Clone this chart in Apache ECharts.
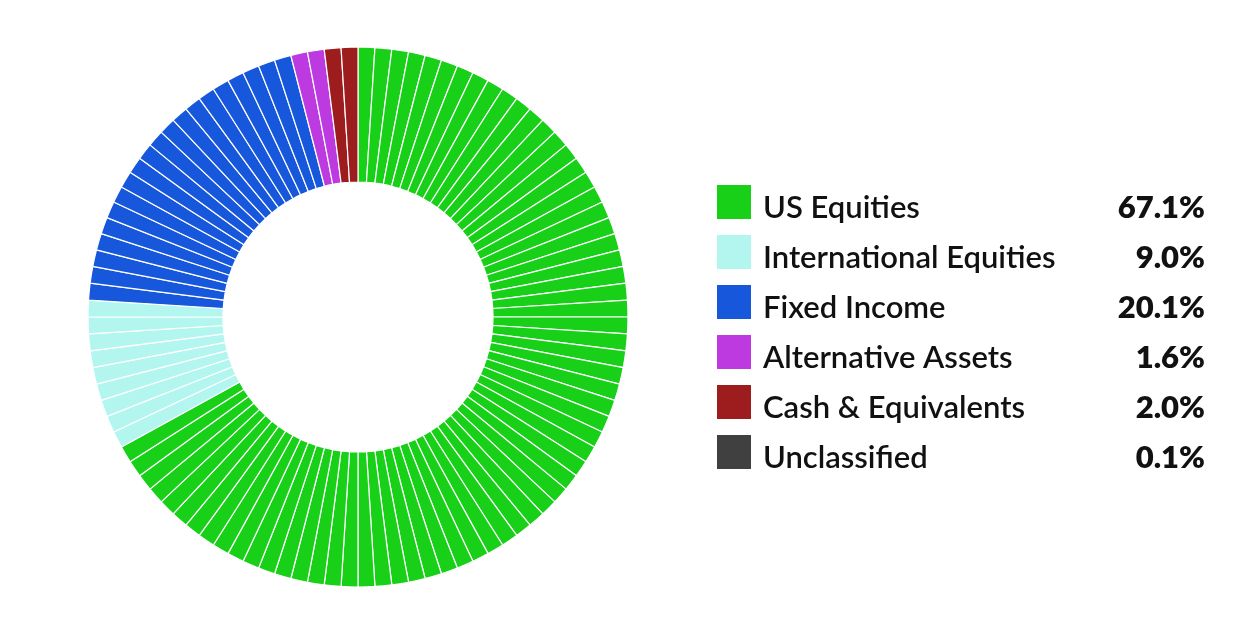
<!DOCTYPE html>
<html>
<head>
<meta charset="utf-8">
<script src="https://cdn.jsdelivr.net/npm/echarts@6/dist/echarts.min.js"></script>
<style>
html,body{margin:0;padding:0;background:#fff;}
#chart{width:1237px;height:637px;}
</style>
</head>
<body>
<div id="chart"></div>
<script>
// ---- data ----
const categories = ["US Equities", "International Equities", "Fixed Income", "Alternative Assets", "Cash & Equivalents", "Unclassified"];
const percentValues = [67.1, 9.0, 20.1, 1.6, 2.0, 0.1];
const percentLabels = ["67.1%", "9.0%", "20.1%", "1.6%", "2.0%", "0.1%"];
// number of 1% wedges drawn for each category in the ring
const sliceCounts = [67, 9, 20, 2, 2, 0];
const colors = ["#18d018", "#b3f6f0", "#1757dc", "#bd3ae0", "#9d1d1f", "#404040"];

// ---- build ring wedges ----
const ringData = [];
categories.forEach((c, i) => {
  for (let k = 0; k < sliceCounts[i]; k++) {
    ringData.push({ name: c + " #" + (k + 1), value: 1, itemStyle: { color: colors[i] } });
  }
});
const legendSeriesData = categories.map((c, i) => ({ name: c, value: percentValues[i], itemStyle: { color: colors[i] } }));
const labelMap = {};
categories.forEach((c, i) => { labelMap[c] = percentLabels[i]; });

const chart = echarts.init(document.getElementById('chart'), null, { renderer: 'canvas' });
chart.setOption({
  animation: false,
  backgroundColor: '#ffffff',
  legend: {
    orient: 'vertical',
    left: 717,
    top: 181,
    padding: 0,
    itemWidth: 34,
    itemHeight: 34,
    itemGap: 8,
    icon: 'rect',
    selectedMode: false,
    data: categories,
    formatter: function (name) {
      return '{s|}{n|' + name + '}{v|' + labelMap[name] + '}';
    },
    textStyle: {
      fontFamily: 'Lato',
      color: '#111111',
      lineHeight: 42,
      rich: {
        s: { fontSize: 1, lineHeight: 42, width: 0 },
        n: { fontFamily: 'Lato', fontSize: 31, fontWeight: 600, lineHeight: 34, verticalAlign: 'bottom', color: '#111111', width: 342, padding: [0, 0, 0, 7] },
        v: { fontFamily: 'Lato', fontSize: 31, fontWeight: 800, lineHeight: 34, verticalAlign: 'bottom', color: '#111111', width: 100, align: 'right' }
      }
    }
  },
  series: [
    {
      type: 'pie',
      name: 'ring',
      center: [358, 317],
      radius: [135, 270],
      startAngle: 90,
      clockwise: true,
      silent: true,
      label: { show: false },
      labelLine: { show: false },
      itemStyle: { borderColor: '#ffffff', borderWidth: 1.2 },
      data: ringData
    },
    {
      type: 'pie',
      name: 'legend',
      center: [358, 317],
      radius: [0, 0],
      silent: true,
      label: { show: false },
      labelLine: { show: false },
      data: legendSeriesData
    }
  ]
});
</script>
</body>
</html>
